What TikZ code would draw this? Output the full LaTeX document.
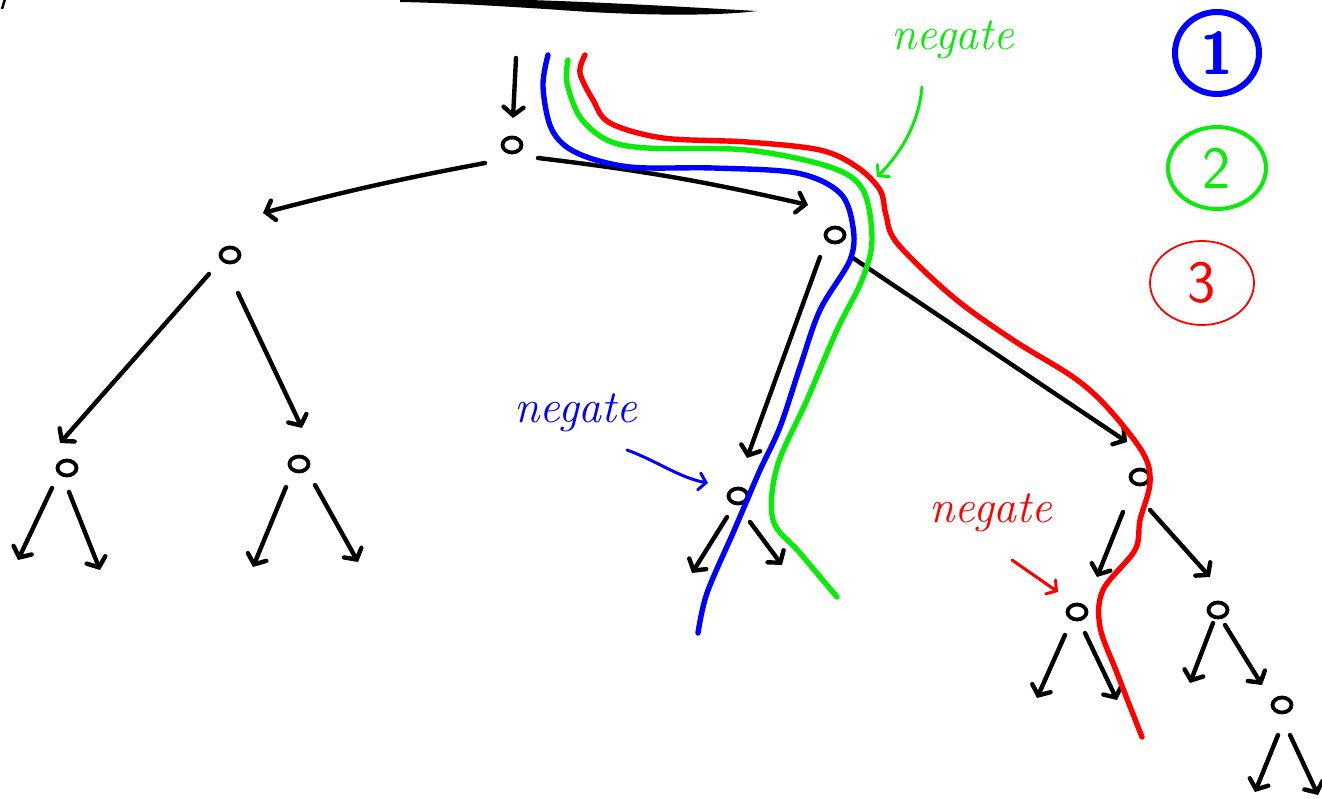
\documentclass[tikz,border=0pt]{standalone}
\usetikzlibrary{arrows.meta,shapes.geometric,calc}
\definecolor{pblue}{RGB}{0,0,255}
\definecolor{pgreen}{RGB}{10,235,10}
\definecolor{pred}{RGB}{255,0,0}
\begin{document}
\begin{tikzpicture}[x=1pt,y=-1pt,
  vtx/.style={draw, ellipse, line width=3.8pt, minimum width=19pt, minimum height=15pt, inner sep=0pt},
  arr/.style={line width=4.4pt, line cap=round, -{Straight Barb[length=8pt,width=20pt,line cap=round]}},
  cpath/.style={line width=5.4pt, line cap=round, line join=round},
  lbl/.style={font=\fontsize{46}{46}\selectfont\itshape, anchor=base, inner sep=0pt},
  ann/.style={line width=3pt, line cap=round, -{Straight Barb[length=7pt,width=17pt,line cap=round]}},
  key/.style={draw, ellipse, inner sep=0pt, font=\fontsize{60}{60}\selectfont\sffamily}
]
\useasboundingbox (0,0) rectangle (1322,799);
\fill[white] (0,0) rectangle (1322,799);

% top stroke and corner mark
\fill (400,-3) .. controls (550,-1) and (650,5) .. (757,11) .. controls (720,16) and (640,16) .. (560,10) .. controls (500,6) and (450,3) .. (400,2) -- cycle;
\draw[line width=2.5pt] (5,-1) -- (2,9);

% vertices
\node[vtx] (R) at (512,145) {};
\node[vtx] (A) at (230,255) {};
\node[vtx] (B) at (835,235) {};
\node[vtx] (C1) at (67,468) {};
\node[vtx] (C2) at (299,464) {};
\node[vtx] (C3) at (738,496) {};
\node[vtx] (C4) at (1140,477) {};
\node[vtx] (C5) at (1077,612) {};
\node[vtx] (C6) at (1218,610) {};
\node[vtx] (C7) at (1282,705) {};

\coordinate (T) at (516,58);
\coordinate (L1a) at (18,560);
\coordinate (L1b) at (100,570);
\coordinate (L2a) at (253,567);
\coordinate (L2b) at (358,562);
\coordinate (L3a) at (692,573);
\coordinate (L3b) at (782,565);
\coordinate (L5a) at (1037,698);
\coordinate (L5b) at (1117,700);
\coordinate (L6a) at (1190,683);
\coordinate (L7a) at (1255,792);
\coordinate (L7b) at (1318,795);

% tree edges
\draw[arr] (T) -- ([shift={(1,-27)}]R.center);
\draw[arr] ([shift={(-27,18)}]R.center) to[bend right=2] ([shift={(33,-42)}]A.center);
\draw[arr] ([shift={(26,13)}]R.center) to[bend left=3] ([shift={(-27,-30)}]B.center);
\draw[arr] ([shift={(-21,19)}]A.center) -- ([shift={(-7,-25)}]C1.center);
\draw[arr] ([shift={(8,38)}]A.center) -- ([shift={(3,-36)}]C2.center);
\draw[arr] ([shift={(-15,22)}]B.center) -- ([shift={(9,-38)}]C3.center);
\draw[arr] ([shift={(18,23)}]B.center) -- ([shift={(-13,-35)}]C4.center);
\draw[arr] ([shift={(-17,35)}]C4.center) -- ([shift={(20,-35)}]C5.center);
\draw[arr] ([shift={(10,33)}]C4.center) -- ([shift={(-8,-33)}]C6.center);
\draw[arr] ([shift={(7,15)}]C6.center) -- ([shift={(-20,-20)}]C7.center);

\draw[arr] ([shift={(-15,20)}]C1.center) -- (L1a);
\draw[arr] ([shift={(2,24)}]C1.center) -- (L1b);
\draw[arr] ([shift={(-13,23)}]C2.center) -- (L2a);
\draw[arr] ([shift={(16,21)}]C2.center) -- (L2b);
\draw[arr] ([shift={(-11,21)}]C3.center) -- (L3a);
\draw[arr] ([shift={(12,26)}]C3.center) -- (L3b);
\draw[arr] ([shift={(-12,23)}]C5.center) -- (L5a);
\draw[arr] ([shift={(8,21)}]C5.center) -- (L5b);
\draw[arr] ([shift={(-5,13)}]C6.center) -- (L6a);
\draw[arr] ([shift={(-4,30)}]C7.center) -- (L7a);
\draw[arr] ([shift={(8,30)}]C7.center) -- (L7b);

% coloured traversal paths
\draw[cpath, pblue] plot[smooth, tension=0.55] coordinates {(548,55) (543,87) (552,130) (577,153) (630,167) (713,168) (797,173) (840,193) (853,227) (850,260) (820,310) (800,367) (780,427) (760,470) (745,505) (733,533) (707,593) (698,633)};
\draw[cpath, pgreen] plot[smooth, tension=0.55] coordinates {(568,60) (567,83) (580,117) (607,140) (647,148) (747,150) (830,167) (863,190) (872,240) (862,280) (837,330) (807,400) (777,467) (773,520) (800,553) (837,597)};
\draw[cpath, pred] plot[smooth, tension=0.55] coordinates {(585,55) (580,73) (593,100) (610,123) (663,138) (747,142) (820,150) (857,167) (880,190) (886,215) (897,243) (953,297) (1013,340) (1073,377) (1107,407) (1143,453) (1150,483) (1140,520) (1135,550) (1103,590) (1100,627) (1117,673) (1142,737)};

% negate labels
\node[lbl, text=pgreen] (gneg) at (953,50) {negate};
\node[lbl, text=pblue] (bneg) at (576,422) {negate};
\node[lbl, text=pred] (rneg) at (991,522) {negate};
\coordinate (gtip) at (877,177);
\coordinate (btip) at (708,483);
\coordinate (rtip) at (1058,592);
\draw[ann, pgreen] ([shift={(-31,37)}]gneg.base) .. controls +(-3,35) and +(25,-25) .. (gtip);
\draw[ann, pblue] ([shift={(51,28)}]bneg.base) .. controls +(28,10) and +(-28,-5) .. (btip);
\draw[ann, pred] ([shift={(21,38)}]rneg.base) -- (rtip);

% key
\node[key, draw=pblue, text=pblue, line width=6pt, minimum width=84pt, minimum height=82pt, font=\fontsize{60}{60}\selectfont\sffamily\bfseries] (k1) at (1217,53) {1};
\node[key, draw=pgreen, text=pgreen, line width=4pt, minimum width=98pt, minimum height=82pt] (k2) at (1217,168) {2};
\node[key, draw=pred, text=pred, line width=1.8pt, minimum width=104pt, minimum height=84pt] (k3) at (1202,283) {3};
\end{tikzpicture}
\end{document}
